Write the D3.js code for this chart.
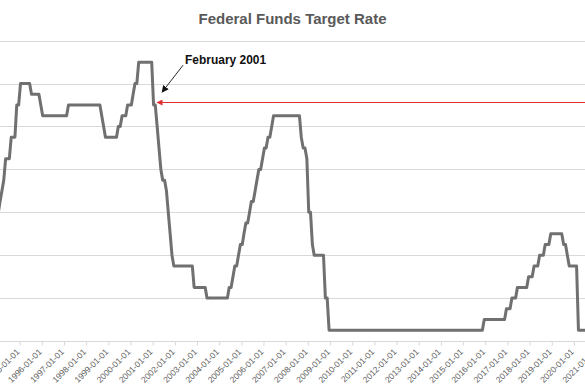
<!DOCTYPE html>
<html><head><meta charset="utf-8">
<script src="https://cdn.jsdelivr.net/npm/d3@7/dist/d3.min.js"></script>
<style>html,body{margin:0;padding:0;background:#fff;overflow:hidden}</style>
</head><body>
<svg id="c" width="585" height="390"></svg>
<script>
// ---- data (monthly target rate, value on the 1st of each month, %) ----
const years = [1994,1995,1996,1997,1998,1999,2000,2001,2002,2003,2004,2005,2006,2007,
               2008,2009,2010,2011,2012,2013,2014,2015,2016,2017,2018,2019,2020,2021];
const ratesByYear = [
  [3.0,3.0,3.25,3.5,3.75,4.25,4.25,4.25,4.75,4.75,4.75,5.5],      // 1994
  [5.5,6.0,6.0,6.0,6.0,6.0,6.0,5.75,5.75,5.75,5.75,5.75],         // 1995
  [5.5,5.25,5.25,5.25,5.25,5.25,5.25,5.25,5.25,5.25,5.25,5.25],   // 1996
  [5.25,5.25,5.25,5.5,5.5,5.5,5.5,5.5,5.5,5.5,5.5,5.5],           // 1997
  [5.5,5.5,5.5,5.5,5.5,5.5,5.5,5.5,5.5,5.25,5.0,4.75],            // 1998
  [4.75,4.75,4.75,4.75,4.75,4.75,5.0,5.0,5.25,5.25,5.25,5.5],     // 1999
  [5.5,5.5,5.75,6.0,6.0,6.5,6.5,6.5,6.5,6.5,6.5,6.5],             // 2000
  [6.5,5.5,5.5,5.0,4.5,4.0,3.75,3.75,3.5,3.0,2.5,2.0],            // 2001
  [1.75,1.75,1.75,1.75,1.75,1.75,1.75,1.75,1.75,1.75,1.75,1.25],  // 2002
  [1.25,1.25,1.25,1.25,1.25,1.25,1.0,1.0,1.0,1.0,1.0,1.0],        // 2003
  [1.0,1.0,1.0,1.0,1.0,1.0,1.25,1.25,1.5,1.75,1.75,2.0],          // 2004
  [2.25,2.25,2.5,2.75,2.75,3.0,3.25,3.25,3.5,3.75,4.0,4.0],       // 2005
  [4.25,4.5,4.5,4.75,4.75,5.0,5.25,5.25,5.25,5.25,5.25,5.25],     // 2006
  [5.25,5.25,5.25,5.25,5.25,5.25,5.25,5.25,5.25,4.75,4.5,4.5],    // 2007
  [4.25,3.0,3.0,2.25,2.0,2.0,2.0,2.0,2.0,2.0,1.0,1.0],            // 2008
  [0.25,0.25,0.25,0.25,0.25,0.25,0.25,0.25,0.25,0.25,0.25,0.25],  // 2009
  [0.25,0.25,0.25,0.25,0.25,0.25,0.25,0.25,0.25,0.25,0.25,0.25],  // 2010
  [0.25,0.25,0.25,0.25,0.25,0.25,0.25,0.25,0.25,0.25,0.25,0.25],  // 2011
  [0.25,0.25,0.25,0.25,0.25,0.25,0.25,0.25,0.25,0.25,0.25,0.25],  // 2012
  [0.25,0.25,0.25,0.25,0.25,0.25,0.25,0.25,0.25,0.25,0.25,0.25],  // 2013
  [0.25,0.25,0.25,0.25,0.25,0.25,0.25,0.25,0.25,0.25,0.25,0.25],  // 2014
  [0.25,0.25,0.25,0.25,0.25,0.25,0.25,0.25,0.25,0.25,0.25,0.25],  // 2015
  [0.5,0.5,0.5,0.5,0.5,0.5,0.5,0.5,0.5,0.5,0.5,0.5],              // 2016
  [0.75,0.75,0.75,1.0,1.0,1.0,1.25,1.25,1.25,1.25,1.25,1.25],     // 2017
  [1.5,1.5,1.5,1.75,1.75,1.75,2.0,2.0,2.0,2.25,2.25,2.25],        // 2018
  [2.5,2.5,2.5,2.5,2.5,2.5,2.5,2.25,2.25,2.0,1.75,1.75],          // 2019
  [1.75,1.75,1.75,0.25,0.25,0.25,0.25,0.25,0.25,0.25,0.25,0.25],  // 2020
  [0.25]                                                           // 2021
];
const yTicks = [0,1,2,3,4,5,6,7];
const labelYears = years;
const titleText = "Federal Funds Target Rate";
const noteText = "February 2001";

// ---- build series ----
const series = [];
years.forEach((yr, i) => ratesByYear[i].forEach((v, m) => series.push({date: new Date(yr, m, 1), v})));

const svg = d3.select("#c");
const W = 585, H = 390;

const x = d3.scaleTime()
  .domain([new Date(2001,0,1), new Date(2020,0,1)])
  .range([151.7, 151.7 + 19*22.17]);
const y = d3.scaleLinear().domain([0,7]).range([341, 40.7]);

// gridlines
svg.append("g").selectAll("line").data(yTicks.slice(1)).join("line")
  .attr("x1", 0).attr("x2", W)
  .attr("y1", d => Math.round(y(d)) + 0.5).attr("y2", d => Math.round(y(d)) + 0.5)
  .attr("stroke", "#d9d9d9").attr("stroke-width", 1);

// x axis
const ax = svg.append("g").attr("transform", `translate(1,${Math.round(y(0))+0.5})`)
  .call(d3.axisBottom(x)
    .tickValues(labelYears.map(yr => new Date(yr,0,1)))
    .tickSize(4)
    .tickFormat(d3.timeFormat("%Y-%m-%d")));
ax.select(".domain").remove();
ax.append("line").attr("x1", -1).attr("x2", W).attr("y1", 0).attr("y2", 0)
  .attr("stroke", "#d9d9d9");
ax.selectAll(".tick line").attr("stroke", "#d9d9d9");
ax.selectAll(".tick text")
  .attr("x", 0).attr("y", 0).attr("dy", 0)
  .attr("transform", "translate(0,11) rotate(-45)")
  .style("text-anchor", "end")
  .style("font-family", "'Liberation Sans', Arial, sans-serif")
  .style("font-size", "8.5px")
  .attr("fill", "#606060");

// line
svg.append("path").datum(series)
  .attr("fill", "none").attr("stroke", "#707070").attr("stroke-width", 3)
  .attr("stroke-linejoin", "round")
  .attr("d", d3.line().x(d => x(d.date)).y(d => y(d.v)));

// title
svg.append("text").attr("x", 292.5).attr("y", 24)
  .attr("text-anchor", "middle")
  .style("font-family", "'Liberation Sans', Arial, sans-serif")
  .style("font-weight", "bold").style("font-size", "14px")
  .attr("fill", "#595959")
  .attr("textLength", 188).attr("lengthAdjust", "spacingAndGlyphs")
  .text(titleText);

// markers
const defs = svg.append("defs");
defs.append("marker").attr("id", "redHead").attr("viewBox", "0 0 10 10")
  .attr("refX", 9).attr("refY", 5).attr("markerWidth", 7).attr("markerHeight", 6)
  .attr("markerUnits", "userSpaceOnUse").attr("orient", "auto")
  .append("path").attr("d", "M0,0 L10,5 L0,10 z").attr("fill", "#e0302f");
defs.append("marker").attr("id", "blackHead").attr("viewBox", "0 0 10 10")
  .attr("refX", 9).attr("refY", 5).attr("markerWidth", 7).attr("markerHeight", 7)
  .attr("markerUnits", "userSpaceOnUse").attr("orient", "auto")
  .append("path").attr("d", "M0,0 L10,5 L0,10 z").attr("fill", "#111");

// red arrow pointing at Feb 2001
const feb01 = new Date(2001,1,1);
const redY = Math.round(y(5.58)) + 0.5;
svg.append("line")
  .attr("x1", W + 2).attr("y1", redY)
  .attr("x2", x(feb01) + 3.5).attr("y2", redY)
  .attr("stroke", "#e0302f").attr("stroke-width", 1.2)
  .attr("marker-end", "url(#redHead)");

// black annotation arrow + text
svg.append("line")
  .attr("x1", x(feb01) + 29.5).attr("y1", y(6.43))
  .attr("x2", x(feb01) + 8.5).attr("y2", y(5.8))
  .attr("stroke", "#111").attr("stroke-width", 0.9)
  .attr("marker-end", "url(#blackHead)");
svg.append("text").attr("x", x(feb01) + 31.5).attr("y", y(6.47) + 1)
  .style("font-family", "'Liberation Sans', Arial, sans-serif")
  .style("font-weight", "bold").style("font-size", "12px")
  .attr("fill", "#111")
  .attr("textLength", 81).attr("lengthAdjust", "spacingAndGlyphs")
  .text(noteText);
</script>
</body></html>
